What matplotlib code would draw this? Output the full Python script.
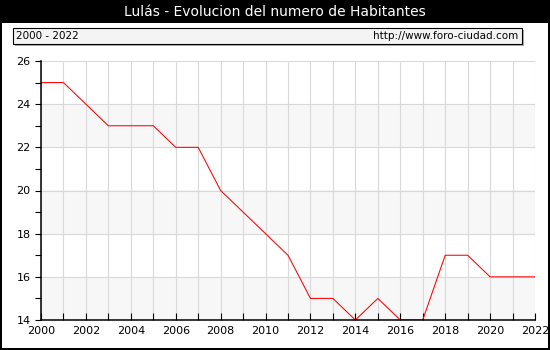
import matplotlib
matplotlib.use("Agg")
import matplotlib.pyplot as plt
from matplotlib.patches import Rectangle

years = list(range(2000, 2023))
habitantes = [25, 25, 24, 23, 23, 23, 22, 22, 20, 19, 18, 17, 15, 15,
              14, 15, 14, 14, 17, 17, 16, 16, 16]
yticks = [14, 16, 18, 20, 22, 24, 26]
xticks = list(range(2000, 2023, 2))

W, H = 550, 350
fig = plt.figure(figsize=(5.5, 3.5), dpi=100)
fig.patch.set_facecolor('black')

# white panel under the plot
fig.patches.append(Rectangle((2 / W, 2 / H), 546 / W, (H - 25) / H,
                             transform=fig.transFigure, facecolor='white',
                             edgecolor='none', zorder=-2))
fig.text(0.5, 1 - 12 / H, 'Lulás - Evolucion del numero de Habitantes',
         color='white', ha='center', va='center', fontsize=10)

# header box with shadow
fig.patches.append(Rectangle((15 / W, 1 - 46 / H), 509 / W, 16 / H,
                             transform=fig.transFigure, facecolor='#b0b0b0',
                             edgecolor='none', zorder=-1))
fig.patches.append(Rectangle((13 / W, 1 - 44 / H), 509 / W, 16 / H,
                             transform=fig.transFigure, facecolor='#f4f4f4',
                             edgecolor='black', linewidth=0.8, zorder=-1))
fig.text(16 / W, 1 - 36 / H, '2000 - 2022', fontsize=7.5, va='center')
fig.text(518 / W, 1 - 36 / H, 'http://www.foro-ciudad.com', fontsize=7.5,
         va='center', ha='right')

ax = fig.add_axes([41 / W, 1 - 320 / H, 494 / W, 259 / H])
ax.set_zorder(5)
ax.set_facecolor('white')
for lo in range(14, 26, 4):
    ax.axhspan(lo, lo + 2, color='#f7f7f7', zorder=0, lw=0)
ax.plot(years, habitantes, color='red', lw=0.75, zorder=3)

ax.set_xlim(2000, 2022)
ax.set_ylim(14, 26)
ax.set_xticks(xticks)
ax.set_xticks(years, minor=True)
ax.set_yticks(yticks)
ax.set_yticks(range(14, 27), minor=True)
ax.grid(True, which='major', color='#d9d9d9', lw=0.8)
ax.grid(True, which='minor', axis='x', color='#d9d9d9', lw=0.8)
ax.set_axisbelow(True)

ax.tick_params(axis='x', which='both', direction='in', length=5, width=0.8,
               labelsize=8, pad=4)
ax.tick_params(axis='y', which='both', direction='out', length=4, width=0.8,
               labelsize=8)
for s in ['top', 'right']:
    ax.spines[s].set_visible(False)
for s in ['left', 'bottom']:
    ax.spines[s].set_linewidth(1.1)
    ax.spines[s].set_zorder(4)

fig.savefig('out.png', dpi=100, facecolor=fig.get_facecolor())
